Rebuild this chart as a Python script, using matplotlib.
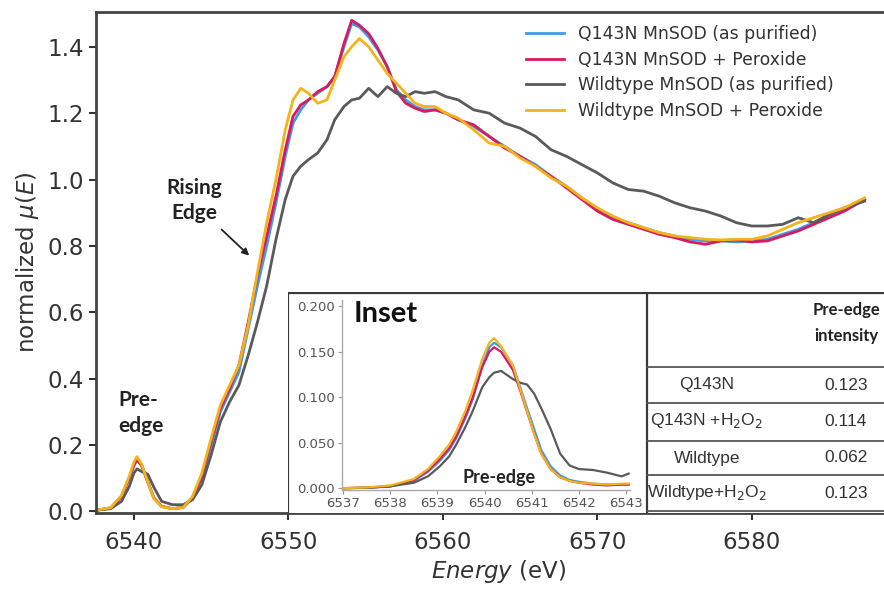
import matplotlib
matplotlib.use("Agg")
import matplotlib.pyplot as plt

# ---------------- data ----------------
labels = ["Q143N MnSOD (as purified)", "Q143N MnSOD + Peroxide",
          "Wildtype MnSOD (as purified)", "Wildtype MnSOD + Peroxide"]
colors = ["#3d9be9", "#d81b60", "#5a5a5a", "#f2b418"]

energy = [6537.5, 6538.5, 6539.2, 6539.7, 6540.0, 6540.2, 6540.5, 6540.9, 6541.3, 6541.8,
          6542.5, 6543.2, 6543.8, 6544.4, 6545.0, 6545.6, 6546.2, 6546.8, 6547.4, 6548.0,
          6548.6, 6549.2, 6549.8, 6550.3, 6550.8, 6551.3, 6551.9, 6552.5, 6553.0, 6553.6,
          6554.1, 6554.6, 6555.2, 6555.8, 6556.4, 6557.0, 6557.6, 6558.2, 6558.8, 6559.5,
          6560.2, 6561.0, 6562.0, 6563.0, 6564.0, 6565.0, 6566.0, 6567.0, 6568.0, 6569.0,
          6570.0, 6571.0, 6572.0, 6573.0, 6574.0, 6575.0, 6576.0, 6577.0, 6578.0, 6579.0,
          6580.0, 6581.0, 6582.0, 6583.0, 6584.0, 6585.0, 6586.0, 6587.3]

mu_q143n = [0.003, 0.010, 0.045, 0.100, 0.140, 0.160, 0.140, 0.090, 0.040, 0.015,
            0.008, 0.012, 0.040, 0.100, 0.200, 0.300, 0.360, 0.420, 0.550, 0.680,
            0.800, 0.930, 1.070, 1.170, 1.210, 1.240, 1.260, 1.280, 1.310, 1.400,
            1.470, 1.460, 1.430, 1.390, 1.340, 1.270, 1.240, 1.220, 1.210, 1.210,
            1.200, 1.180, 1.160, 1.130, 1.100, 1.070, 1.045, 1.010, 0.980, 0.945,
            0.910, 0.885, 0.870, 0.855, 0.840, 0.830, 0.820, 0.815, 0.815, 0.812,
            0.815, 0.820, 0.835, 0.850, 0.870, 0.890, 0.910, 0.940]

mu_q143n_pero = [0.003, 0.010, 0.045, 0.100, 0.138, 0.155, 0.138, 0.088, 0.040, 0.015,
                 0.008, 0.012, 0.042, 0.105, 0.210, 0.310, 0.370, 0.440, 0.570, 0.710,
                 0.830, 0.950, 1.090, 1.190, 1.225, 1.240, 1.265, 1.280, 1.310, 1.410,
                 1.480, 1.465, 1.440, 1.395, 1.340, 1.265, 1.230, 1.215, 1.205, 1.210,
                 1.200, 1.180, 1.165, 1.130, 1.095, 1.070, 1.040, 1.010, 0.975, 0.940,
                 0.905, 0.880, 0.865, 0.850, 0.835, 0.825, 0.812, 0.805, 0.815, 0.818,
                 0.812, 0.815, 0.830, 0.845, 0.865, 0.885, 0.905, 0.940]

mu_wt = [0.003, 0.008, 0.030, 0.075, 0.115, 0.128, 0.120, 0.112, 0.072, 0.030,
         0.020, 0.020, 0.035, 0.080, 0.170, 0.270, 0.330, 0.380, 0.470, 0.570,
         0.680, 0.820, 0.940, 1.010, 1.040, 1.060, 1.080, 1.120, 1.180, 1.220,
         1.240, 1.245, 1.275, 1.250, 1.280, 1.260, 1.250, 1.265, 1.260, 1.265,
         1.250, 1.240, 1.210, 1.200, 1.170, 1.155, 1.130, 1.090, 1.070, 1.045,
         1.020, 0.990, 0.970, 0.965, 0.950, 0.930, 0.915, 0.905, 0.890, 0.870,
         0.860, 0.860, 0.865, 0.885, 0.870, 0.895, 0.915, 0.935]

mu_wt_pero = [0.003, 0.011, 0.048, 0.105, 0.148, 0.165, 0.142, 0.088, 0.038, 0.014,
              0.008, 0.012, 0.045, 0.115, 0.220, 0.320, 0.380, 0.440, 0.560, 0.720,
              0.870, 1.000, 1.150, 1.240, 1.275, 1.260, 1.230, 1.240, 1.300, 1.370,
              1.400, 1.425, 1.400, 1.360, 1.320, 1.290, 1.260, 1.230, 1.220, 1.220,
              1.200, 1.185, 1.150, 1.110, 1.100, 1.065, 1.040, 1.005, 0.980, 0.945,
              0.915, 0.890, 0.870, 0.855, 0.840, 0.830, 0.825, 0.820, 0.818, 0.820,
              0.820, 0.830, 0.850, 0.870, 0.885, 0.900, 0.915, 0.945]

main_series = [mu_q143n, mu_q143n_pero, mu_wt, mu_wt_pero]

inset_energy = [6537.0, 6537.5, 6538.0, 6538.5, 6538.8, 6539.05, 6539.25, 6539.4, 6539.6,
                6539.75, 6539.95, 6540.1, 6540.2, 6540.35, 6540.6, 6540.75, 6540.9, 6541.05,
                6541.2, 6541.4, 6541.6, 6541.8, 6542.0, 6542.3, 6542.6, 6542.9, 6543.05]

in_q143n = [0.000, 0.0005, 0.002, 0.008, 0.018, 0.030, 0.042, 0.055, 0.078,
            0.098, 0.135, 0.155, 0.160, 0.155, 0.135, 0.112, 0.088, 0.065,
            0.042, 0.024, 0.014, 0.009, 0.007, 0.005, 0.004, 0.004, 0.004]
in_q143n_pero = [0.000, 0.0005, 0.002, 0.009, 0.019, 0.032, 0.044, 0.057, 0.080,
                 0.100, 0.133, 0.150, 0.155, 0.150, 0.130, 0.108, 0.084, 0.060,
                 0.038, 0.021, 0.012, 0.008, 0.006, 0.004, 0.003, 0.004, 0.004]
in_wt = [0.000, 0.0005, 0.002, 0.006, 0.013, 0.024, 0.035, 0.048, 0.068,
         0.085, 0.111, 0.122, 0.127, 0.129, 0.120, 0.116, 0.114, 0.104,
         0.088, 0.065, 0.038, 0.025, 0.021, 0.020, 0.017, 0.013, 0.016]
in_wt_pero = [0.000, 0.0008, 0.003, 0.010, 0.021, 0.035, 0.048, 0.062, 0.086,
              0.108, 0.142, 0.160, 0.165, 0.156, 0.135, 0.110, 0.085, 0.060,
              0.038, 0.021, 0.012, 0.008, 0.006, 0.005, 0.004, 0.005, 0.005]
inset_series = [in_q143n, in_q143n_pero, in_wt, in_wt_pero]

table_samples = ["Q143N", "Q143N +H$_2$O$_2$", "Wildtype", "Wildtype+H$_2$O$_2$"]
table_values = ["0.123", "0.114", "0.062", "0.123"]

main_xticks = [6540, 6550, 6560, 6570, 6580]
main_yticks = [0.0, 0.2, 0.4, 0.6, 0.8, 1.0, 1.2, 1.4]
inset_xticks = [6537, 6538, 6539, 6540, 6541, 6542, 6543]
inset_yticks = [0.000, 0.050, 0.100, 0.150, 0.200]

# ---------------- figure ----------------
W, H = 884, 590
plt.rcParams['font.family'] = ['DejaVu Sans']
plt.rcParams['mathtext.fontset'] = 'dejavusans'
fig = plt.figure(figsize=(W / 100, H / 100), dpi=100)

def fx(px):
    return px / W

def fy(py):
    return 1 - py / H

ax = fig.add_axes([fx(96), fy(513), 1.02 - fx(96), fy(12) - fy(513)])
for c, y, lab in zip(colors, main_series, labels):
    ax.plot(energy, y, color=c, lw=2.0, label=lab)
ax.set_xlim(6537.55, 6589.7)
ax.set_ylim(-0.005, 1.505)
ax.set_xticks(main_xticks)
ax.set_yticks(main_yticks)
ax.set_yticklabels([f"{v:.1f}" for v in main_yticks])
ax.tick_params(axis="both", labelsize=16.5, colors="#333333", length=5, width=1.5,
               labelcolor="#333333")
ax.tick_params(axis="x", pad=8)
for s in ["left", "bottom", "top"]:
    ax.spines[s].set_color("#444444")
    ax.spines[s].set_linewidth(2)
ax.spines["right"].set_visible(False)
ax.set_ylabel(r"normalized $\mu(E)$", fontsize=16.5, color="#333333", labelpad=5)
ax.set_xlabel(r"$\it{Energy}$ (eV)", fontsize=16.5, color="#333333", labelpad=3)

leg = ax.legend(loc="upper left", bbox_to_anchor=(fx(526), fy(25)), bbox_transform=fig.transFigure,
                frameon=False, fontsize=12.4, handlelength=2.2, handletextpad=0.8,
                labelspacing=0.45, borderpad=0, borderaxespad=0)
for t in leg.get_texts():
    t.set_color("#333333")

ann_font = ["Lato", "DejaVu Sans"]
ax.text(6543.9, 0.937, "Rising\nEdge", fontsize=15, fontweight="bold", ha="center", va="center",
        color="#222222", linespacing=1.35, family=ann_font)
ax.annotate("", xy=(6547.6, 0.765), xytext=(6545.55, 0.855),
            arrowprops=dict(arrowstyle="-|>", color="#222222", lw=1.3, mutation_scale=10))
ax.text(6539.0, 0.297, "Pre-\nedge", fontsize=15, fontweight="bold", ha="left", va="center",
        color="#222222", linespacing=1.35, family=ann_font)

# ---------------- inset box + table ----------------
box = fig.add_axes([fx(288), fy(513), 1 - fx(288), fy(292) - fy(513)])
box.set_xlim(288, W)
box.set_ylim(513, 292)
box.set_facecolor("white")
box.set_xticks([])
box.set_yticks([])
for s in box.spines.values():
    s.set_visible(False)
lc = "#3a3a3a"
box.plot([288, 288], [513, 292], color=lc, lw=1.6)
box.plot([288, W], [293, 293], color=lc, lw=1.6)
box.plot([647, 647], [513, 293], color=lc, lw=1.6)
row_lines = [367, 403, 441, 475, 511]
for yl in row_lines:
    box.plot([647, W], [yl, yl], color="#555555", lw=1.3)

tab_font = ["Liberation Sans", "DejaVu Sans"]
box.text(846, 323, "Pre-edge\nintensity", fontsize=12, fontweight="bold", ha="center", va="center",
         color="#222222", linespacing=1.75, family=ann_font)
row_centers = [385, 421, 458, 493]
for yc, smp, val in zip(row_centers, table_samples, table_values):
    box.text(707, yc, smp, fontsize=12.5, ha="center", va="center", color="#333333",
             family=tab_font)
    box.text(846, yc, val, fontsize=12.5, ha="center", va="center", color="#333333",
             family=tab_font)

ins = fig.add_axes([fx(342), fy(490), fx(630) - fx(342), fy(300) - fy(490)])
for c, y in zip(colors, inset_series):
    ins.plot(inset_energy, y, color=c, lw=1.6)
ins.set_xlim(6536.98, 6543.08)
ins.set_ylim(-0.002, 0.207)
ins.set_xticks(inset_xticks)
ins.set_yticks(inset_yticks)
ins.set_yticklabels([f"{v:.3f}" for v in inset_yticks])
ins.tick_params(labelsize=9.5, colors="#999999", labelcolor="#555555", length=3, width=0.8, pad=2)
for s in ["top", "right"]:
    ins.spines[s].set_visible(False)
for s in ["left", "bottom"]:
    ins.spines[s].set_color("#aaaaaa")
    ins.spines[s].set_linewidth(1.0)
ins.patch.set_alpha(0)
ins.text(6537.22, 0.192, "Inset", fontsize=21, fontweight="bold", ha="left", va="center",
         color="#111111", family=ann_font)
ins.text(6540.3, 0.012, "Pre-edge", fontsize=13, fontweight="bold", ha="center", va="center",
         color="#222222", family=ann_font)

fig.savefig("out.png", dpi=100)
